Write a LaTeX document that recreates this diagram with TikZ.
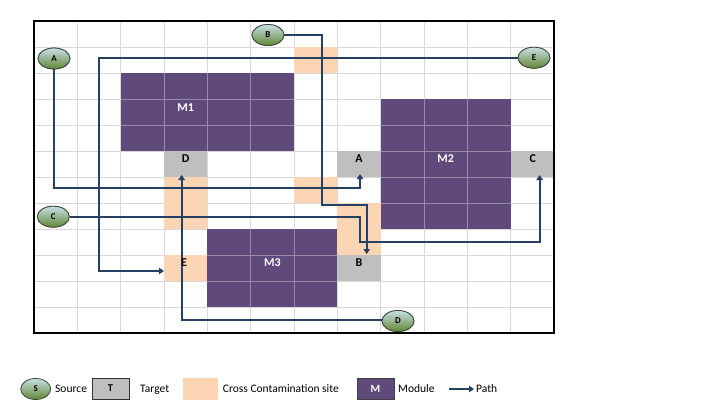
\documentclass[tikz,border=0pt]{standalone}
\usepackage{fontspec}
\setmainfont{Carlito}
\usetikzlibrary{arrows.meta,shapes.geometric}
\definecolor{modc}{RGB}{96,74,123}
\definecolor{peach}{RGB}{252,213,180}
\definecolor{targc}{RGB}{191,191,191}
\definecolor{gridc}{RGB}{217,217,217}
\definecolor{modline}{RGB}{150,140,165}
\definecolor{pathc}{RGB}{38,64,100}
\definecolor{srctop}{RGB}{200,224,230}
\definecolor{srcbot}{RGB}{98,134,52}
\definecolor{srcedge}{RGB}{60,72,60}
\begin{document}
\begin{tikzpicture}[x=1pt,y=-1pt,
  gridl/.style={draw=gridc,line width=0.9pt},
  modl/.style={draw=modline,line width=0.9pt},
  cellbox/.style={anchor=north west,inner sep=0pt,outer sep=0pt,minimum width=#1},
  cellbox/.default=43.333pt,
  crossbox/.style={fill=peach,draw=none},
  targetbox/.style={fill=targc,draw=none},
  modulebox/.style={fill=modc,draw=none},
  celllabel/.style={inner sep=0pt,font=\bfseries\fontsize{12}{12}\selectfont},
  source/.style={ellipse,minimum width=32pt,minimum height=21pt,inner sep=0pt,
    draw=srcedge,line width=0.8pt,top color=srctop,bottom color=srcbot,
    font=\bfseries\fontsize{9}{9}\selectfont},
  pathl/.style={draw=pathc,line width=2pt,-{Triangle[length=5pt,width=6.5pt]}},
  legtext/.style={anchor=base west,inner sep=0pt,font=\fontsize{11.5}{11.5}\selectfont}]
\useasboundingbox (0,0) rectangle (701,416);
\fill[white] (0,0) rectangle (701,416);
% grid
\foreach \i in {1,...,11} \draw[gridl] ({34+\i*43.333},21) -- ({34+\i*43.333},333);
\foreach \j in {1,...,11} \draw[gridl] (34,{21+\j*26}) -- (554,{21+\j*26});
% cross contamination sites
\node[cellbox,crossbox,minimum height=26pt] (x1) at ({34+6*43.333},{21+1*26}) {};
\node[cellbox,crossbox,minimum height=52pt] (x2) at ({34+3*43.333},{21+6*26}) {};
\node[cellbox,crossbox,minimum height=26pt] (x3) at ({34+6*43.333},{21+6*26}) {};
\node[cellbox,crossbox,minimum height=52pt] (x4) at ({34+7*43.333},{21+7*26}) {};
% targets
\node[cellbox,targetbox,minimum height=26pt] (tD) at ({34+3*43.333},{21+5*26}) {};
\node[cellbox,targetbox,minimum height=26pt] (tA) at ({34+7*43.333},{21+5*26}) {};
\node[cellbox,targetbox,minimum height=26pt] (tC) at ({34+11*43.333},{21+5*26}) {};
\node[cellbox,targetbox,minimum height=26pt] (tB) at ({34+7*43.333},{21+9*26}) {};
\node[cellbox,crossbox,minimum height=26pt] (tE) at ({34+3*43.333},{21+9*26}) {};
% modules
\node[cellbox=173.333pt,modulebox,minimum height=78pt] (m1) at ({34+2*43.333},{21+2*26}) {};
\node[cellbox=130pt,modulebox,minimum height=130pt] (m2) at ({34+8*43.333},{21+3*26}) {};
\node[cellbox=130pt,modulebox,minimum height=78pt] (m3) at ({34+4*43.333},{21+8*26}) {};
\foreach \i in {3,4,5} \draw[modl] ({34+\i*43.333},{21+2*26}) -- ({34+\i*43.333},{21+5*26});
\foreach \j in {3,4} \draw[modl] ({34+2*43.333},{21+\j*26}) -- ({34+6*43.333},{21+\j*26});
\foreach \i in {9,10} \draw[modl] ({34+\i*43.333},{21+3*26}) -- ({34+\i*43.333},{21+8*26});
\foreach \j in {4,5,6,7} \draw[modl] ({34+8*43.333},{21+\j*26}) -- ({34+11*43.333},{21+\j*26});
\foreach \i in {5,6} \draw[modl] ({34+\i*43.333},{21+8*26}) -- ({34+\i*43.333},{21+11*26});
\foreach \j in {9,10} \draw[modl] ({34+4*43.333},{21+\j*26}) -- ({34+7*43.333},{21+\j*26});
% border
\draw[line width=1.8pt,black] (34,21) rectangle (554,333);
% sources
\node[source] (sB) at (268,35) {B};
\node[source] (sA) at (54,58.5) {A};
\node[source] (sE) at (534,57.7) {E};
\node[source] (sC) at (53.3,216.7) {C};
\node[source] (sD) at (398,321) {D};
% paths
\draw[pathl] (sA.south) -- (sA.south |- 0,187.5) -| ([xshift=1pt,yshift=3pt]tA.south);
\draw[pathl] (sE.west) -| (99,271) -- (tE.west |- 0,271);
\draw[pathl] (sB.east) -| (321.7,205) -| ([xshift=7.7pt,yshift=1pt]tB.north);
\draw[pathl] (sC.east) -| (360,241.7) -| ([xshift=7.3pt,yshift=2pt]tC.south);
\draw[pathl] ([yshift=1.5pt]sD.west) -| ([xshift=-4pt,yshift=2pt]tD.south);
% re-draw sources on top of path ends
\node[source] at (sB) {B};
\node[source] at (sA) {A};
\node[source] at (sE) {E};
\node[source] at (sC) {C};
\node[source] at (sD) {D};
% labels
\node[celllabel,text=white] (lM1) at (185.7,108) {M1};
\node[celllabel,text=white] (lM2) at (445.7,158.5) {M2};
\node[celllabel,text=white] (lM3) at (272.3,263) {M3};
\node[celllabel] (lD) at (185.7,159) {D};
\node[celllabel] (lA) at (359,158.5) {A};
\node[celllabel] (lC) at (532.7,158.5) {C};
\node[celllabel] (lB) at (359,263) {B};
\node[celllabel] (lE) at (184,263) {E};
% legend
\node[source,minimum width=30pt] (lgS) at (35.7,389) {S};
\node[legtext] (lgSt) at (55,392.7) {Source};
\node[fill=targc,draw=black!80,line width=0.8pt,minimum width=37pt,minimum height=21pt,inner sep=0pt,
  font=\bfseries\fontsize{10.5}{10.5}\selectfont] (lgT) at (110.5,388.5) {T};
\node[legtext] (lgTt) at (140,392.7) {Target};
\node[fill=peach,minimum width=35pt,minimum height=21.5pt,inner sep=0pt] (lgX) at (200.5,389) {};
\node[legtext] (lgXt) at (222.7,392.7) {Cross Contamination site};
\node[fill=modc,draw=black!75,line width=0.8pt,minimum width=37pt,minimum height=21pt,inner sep=0pt,
  text=white,font=\bfseries\fontsize{11}{11}\selectfont] (lgM) at (375.5,388.5) {M};
\node[legtext] (lgMt) at (398,392.7) {Module};
\coordinate (lgP0) at (449,389);
\coordinate (lgP1) at (474,389);
\draw[pathl] (lgP0) -- (lgP1);
\node[legtext] (lgPt) at (476,392.7) {Path};
\end{tikzpicture}
\end{document}
